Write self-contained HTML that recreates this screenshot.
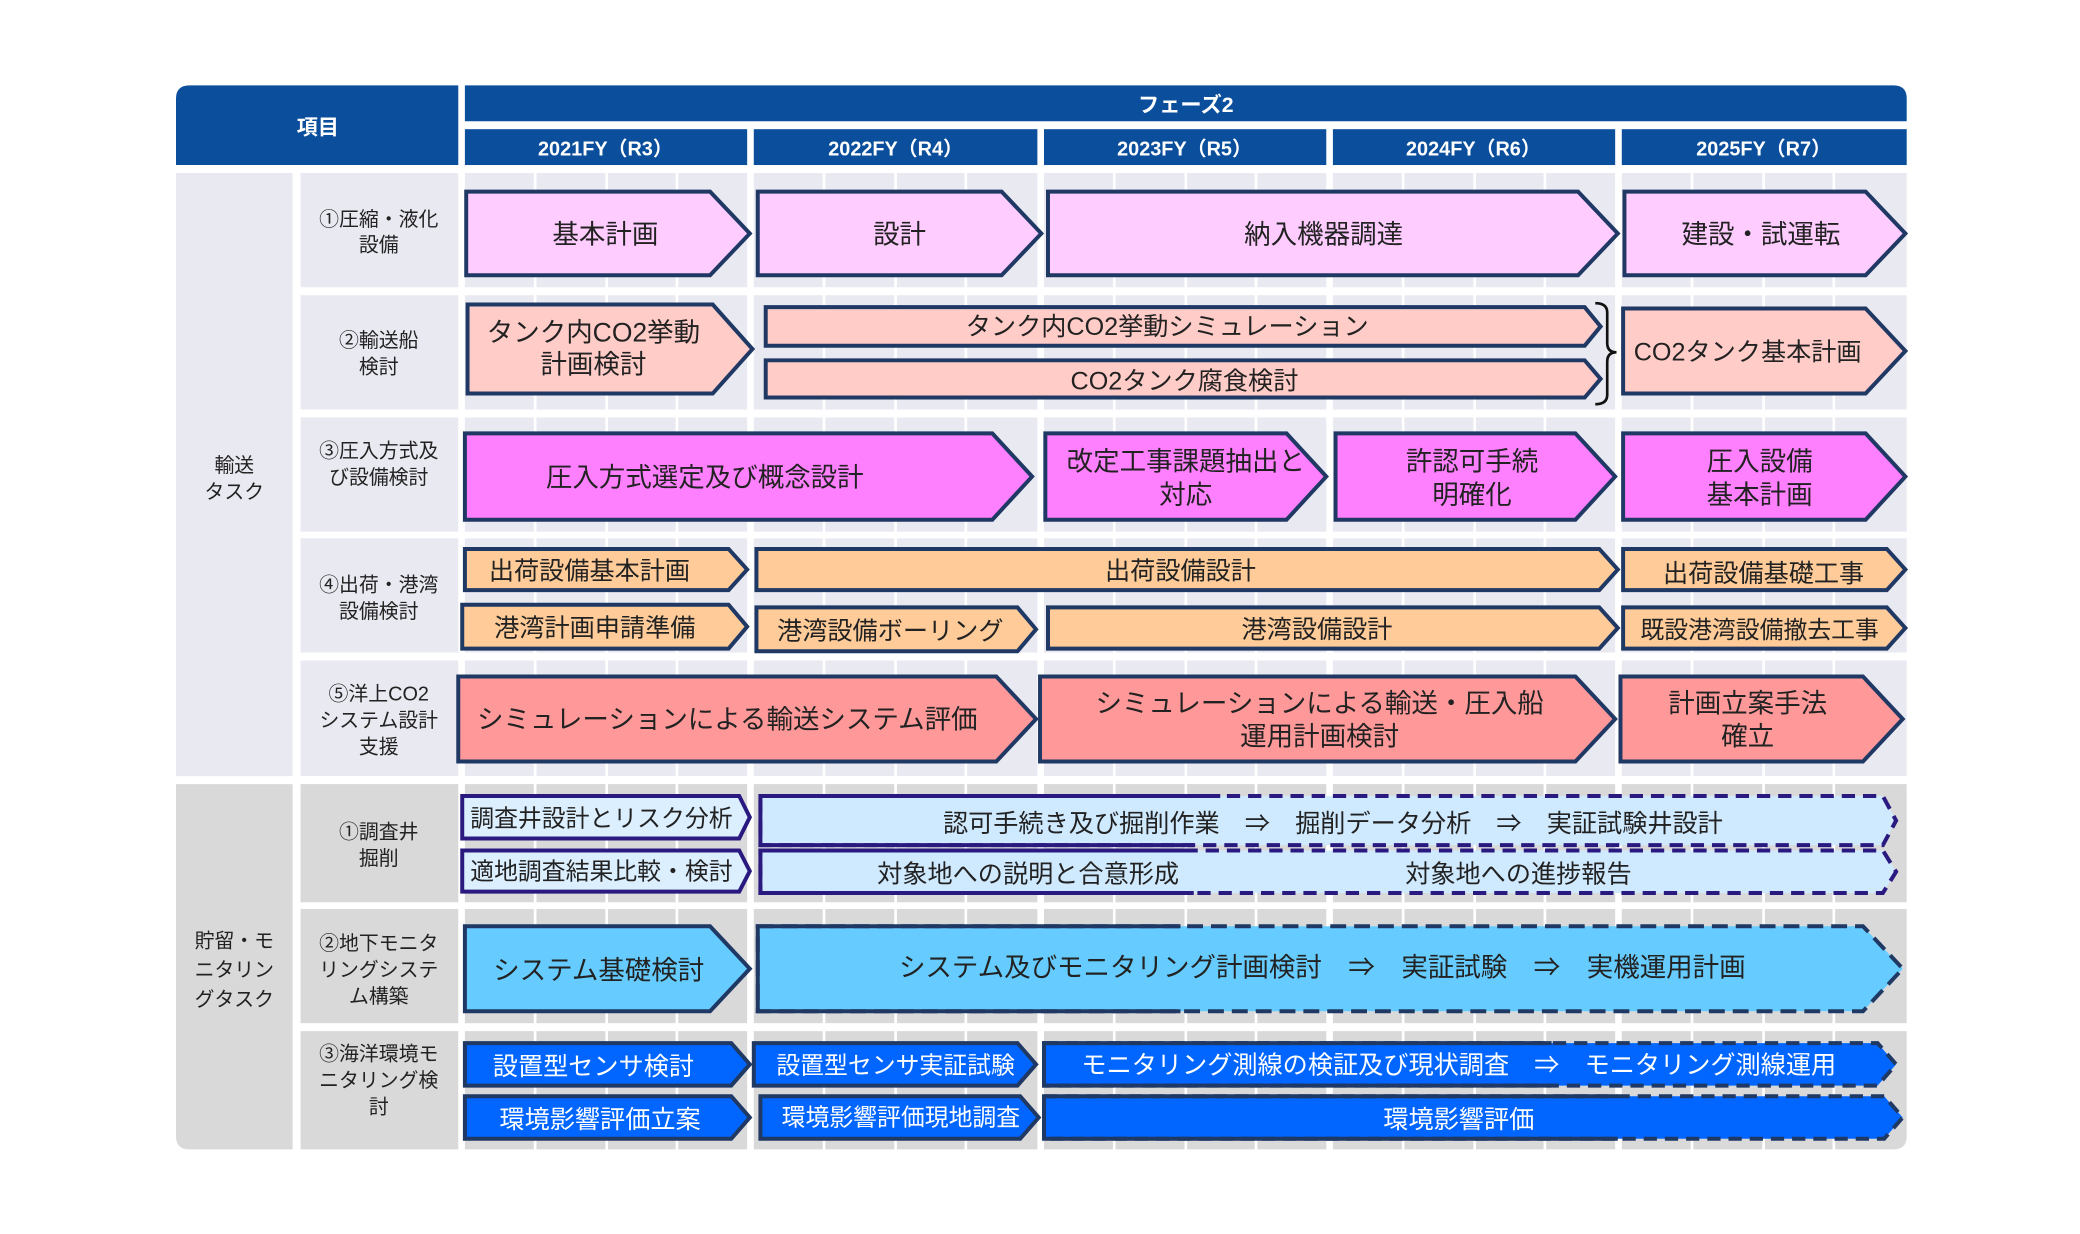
<!DOCTYPE html>
<html><head><meta charset="utf-8"><style>
html,body{margin:0;padding:0;background:#fff;}
svg{display:block;}
text{font-family:"Liberation Sans","Noto Sans CJK JP",sans-serif;}
</style></head><body>
<svg width="2080" height="1234" viewBox="0 0 1560 925.5" xmlns="http://www.w3.org/2000/svg">
<rect width="1560" height="925.5" fill="#fff"/>
<g transform="translate(132,64) scale(0.9939,0.9963) translate(-132,-65)">
<!-- header -->
<path d="M132,75 Q132,65 142,65 L345,65 L345,125 L132,125 Z" fill="#0b4f9c"/>
<path d="M350,65 L1428,65 Q1438,65 1438,75 L1438,92 L350,92 Z" fill="#0b4f9c"/>
<g fill="#0b4f9c">
<rect x="350" y="98" width="213" height="27"/><rect x="568" y="98" width="214" height="27"/><rect x="787" y="98" width="213" height="27"/><rect x="1005" y="98" width="213" height="27"/><rect x="1223" y="98" width="215" height="27"/>
</g>
<g fill="#fff" font-weight="bold" text-anchor="middle">
<text x="239" y="102" font-size="16">項目</text>
<text x="894" y="85" font-size="16">フェーズ2</text>
<text x="456" y="118" font-size="15">2021FY（R3）</text>
<text x="675" y="118" font-size="15">2022FY（R4）</text>
<text x="893" y="118" font-size="15">2023FY（R5）</text>
<text x="1111" y="118" font-size="15">2024FY（R6）</text>
<text x="1330" y="118" font-size="15">2025FY（R7）</text>
</g>
<!-- bands -->
<g fill="#e9e9f1">
<path d="M132,131 L220,131 L220,585 L132,585 Z"/>
<rect x="226" y="131" width="1212" height="86"/>
<rect x="226" y="223" width="1212" height="86"/>
<rect x="226" y="315" width="1212" height="86"/>
<rect x="226" y="406" width="1212" height="86"/>
<rect x="226" y="498" width="1212" height="87"/>
</g>
<g fill="#d9d9d9">
<path d="M132,591 L220,591 L220,866 L142,866 Q132,866 132,856 Z"/>
<rect x="226" y="591" width="1212" height="89"/>
<rect x="226" y="685" width="1212" height="86"/>
<path d="M226,777 L1438,777 L1438,856 Q1438,866 1428,866 L226,866 Z"/>
</g>
<g stroke="#fff">
<g stroke-width="5"><line x1="347.5" y1="128" x2="347.5" y2="870"/><line x1="565.5" y1="128" x2="565.5" y2="870"/><line x1="784.5" y1="128" x2="784.5" y2="870"/><line x1="1002.5" y1="128" x2="1002.5" y2="870"/><line x1="1220.5" y1="128" x2="1220.5" y2="870"/></g>
<g stroke-width="2">
<line x1="403" y1="128" x2="403" y2="870"/><line x1="457" y1="128" x2="457" y2="870"/><line x1="510" y1="128" x2="510" y2="870"/>
<line x1="621" y1="128" x2="621" y2="870"/><line x1="675" y1="128" x2="675" y2="870"/><line x1="728" y1="128" x2="728" y2="870"/>
<line x1="840" y1="128" x2="840" y2="870"/><line x1="894" y1="128" x2="894" y2="870"/><line x1="947" y1="128" x2="947" y2="870"/>
<line x1="1058" y1="128" x2="1058" y2="870"/><line x1="1112" y1="128" x2="1112" y2="870"/><line x1="1165" y1="128" x2="1165" y2="870"/>
<line x1="1276" y1="128" x2="1276" y2="870"/><line x1="1330" y1="128" x2="1330" y2="870"/><line x1="1383" y1="128" x2="1383" y2="870"/>
</g></g>
<!-- left labels -->
<g fill="#222" font-size="15" text-anchor="middle">
<text x="176" y="356">輸送</text><text x="176" y="376">タスク</text>
<text x="176" y="714">貯留・モ</text><text x="176" y="736">ニタリン</text><text x="176" y="758">グタスク</text>
<text x="285" y="171">①圧縮・液化</text><text x="285" y="190">設備</text>
<text x="285" y="262">②輸送船</text><text x="285" y="282">検討</text>
<text x="285" y="345">③圧入方式及</text><text x="285" y="365">び設備検討</text>
<text x="285" y="446">④出荷・港湾</text><text x="285" y="466">設備検討</text>
<text x="285" y="528">⑤洋上CO2</text><text x="285" y="548">システム設計</text><text x="285" y="568">支援</text>
<text x="285" y="632">①調査井</text><text x="285" y="652">掘削</text>
<text x="285" y="716">②地下モニタ</text><text x="285" y="736">リングシステ</text><text x="285" y="756">ム構築</text>
<text x="285" y="799">③海洋環境モ</text><text x="285" y="819">ニタリング検</text><text x="285" y="839">討</text>
</g>
<!-- row1 -->
<g fill="#ffccff" stroke="#1f3864" stroke-width="3" stroke-linejoin="miter">
<polygon points="351,145 535,145 565,176.5 535,208 351,208"/>
<polygon points="571,145 755,145 785,176.5 755,208 571,208"/>
<polygon points="790,145 1190,145 1220,176.5 1190,208 790,208"/>
<polygon points="1225,145 1407,145 1437,176.5 1407,208 1225,208"/>
</g>
<!-- row2 -->
<g fill="#ffccc8" stroke="#1f3864" stroke-width="3">
<polygon points="352,230 537,230 567,263.5 537,297 352,297"/>
<polygon points="577,232 1195,232 1207,246.5 1195,261 577,261"/>
<polygon points="577,272 1195,272 1207,286 1195,300 577,300"/>
<polygon points="1224,233 1407,233 1437,265 1407,297 1224,297"/>
</g>
<path d="M1203,229 Q1212,229 1212,236 L1212,259 Q1212,266 1219,266 Q1212,266 1212,273 L1212,298 Q1212,305 1203,305" fill="none" stroke="#111" stroke-width="2"/>
<!-- row3 -->
<g fill="#ff80ff" stroke="#1f3864" stroke-width="3">
<polygon points="350,327 748,327 778,359.5 748,392 350,392"/>
<polygon points="788,327 970,327 1000,359.5 970,392 788,392"/>
<polygon points="1007,327 1188,327 1218,359.5 1188,392 1007,392"/>
<polygon points="1224,327 1407,327 1437,359.5 1407,392 1224,392"/>
</g>
<!-- row4 -->
<g fill="#ffcc99" stroke="#1f3864" stroke-width="3">
<polygon points="350,414 549,414 563,429.5 549,445 350,445"/>
<polygon points="570,414 1206,414 1220,429.5 1206,445 570,445"/>
<polygon points="1224,414 1423,414 1437,429.5 1423,445 1224,445"/>
<polygon points="348,456 549,456 563,472.5 549,489 348,489"/>
<polygon points="570,458 767,458 781,474.5 767,491 570,491"/>
<polygon points="790,458 1206,458 1220,473.5 1206,489 790,489"/>
<polygon points="1224,458 1423,458 1437,473.5 1423,489 1224,489"/>
</g>
<!-- row5 -->
<g fill="#ff9999" stroke="#1f3864" stroke-width="3">
<polygon points="345,510 751,510 781,542 751,574 345,574"/>
<polygon points="784,510 1188,510 1218,542 1188,574 784,574"/>
<polygon points="1222,510 1405,510 1435,542 1405,574 1222,574"/>
</g>
<!-- row6 -->
<g fill="#dcefff" stroke="#2a1a80" stroke-width="3">
<polygon points="348,600 557,600 565,616 557,632 348,632"/>
<polygon points="348,641 557,641 565,656.5 557,672 348,672"/>
</g>
<g fill="#cfe9ff" stroke="#2a1a80" stroke-width="3" stroke-dasharray="10,6">
<polygon points="573,600 1420,600 1430,618.5 1420,637 573,637"/>
<polygon points="573,641 1420,641 1430,657 1420,673 573,673"/>
</g>
<g fill="none" stroke="#2a1a80" stroke-width="3">
<polyline points="920,600 573,600 573,637 900,637"/>
<polyline points="900,641 573,641 573,673 900,673"/>
</g>
<!-- row7 -->
<g stroke="#1f3864" stroke-width="3">
<polygon fill="#66ccff" points="350,698 535,698 565,730 535,762 350,762"/>
<polygon fill="#66ccff" stroke-dasharray="12,6" points="571,698 1405,698 1435,730 1405,762 571,762"/>
<polyline fill="none" points="890,698 571,698 571,762 890,762"/>
</g>
<!-- row8 -->
<g fill="#0066ff" stroke="#1f3864" stroke-width="3">
<polygon points="350,786 551,786 565,802 551,818 350,818"/>
<polygon points="568,786 767,786 781,802 767,818 568,818"/>
<polygon points="350,826 551,826 565,842 551,858 350,858"/>
<polygon points="573,826 769,826 783,842 769,858 573,858"/>
<polygon stroke-dasharray="10,6" points="787,786 1416,786 1430,802 1416,818 787,818"/>
<polygon stroke-dasharray="10,6" points="787,826 1421,826 1435,842 1421,858 787,858"/>
<polyline fill="none" points="1170,786 787,786 787,818 1170,818"/>
<polyline fill="none" points="1220,826 787,826 787,858 1220,858"/>
</g>
<!-- texts -->
<g fill="#222" text-anchor="middle" font-size="20">
<text x="456" y="184">基本計画</text>
<text x="678" y="184">設計</text>
<text x="998" y="184">納入機器調達</text>
<text x="1328" y="184">建設・試運転</text>
<text x="447" y="258">タンク内CO2挙動</text><text x="447" y="282">計画検討</text>
<text x="880" y="253" font-size="19">タンク内CO2挙動シミュレーション</text>
<text x="893" y="294" font-size="19">CO2タンク腐食検討</text>
<text x="1318" y="272" font-size="19">CO2タンク基本計画</text>
<text x="531" y="367">圧入方式選定及び概念設計</text>
<text x="894" y="355">改定工事課題抽出と</text><text x="894" y="380">対応</text>
<text x="1110" y="355">許認可手続</text><text x="1110" y="380">明確化</text>
<text x="1327" y="355">圧入設備</text><text x="1327" y="380">基本計画</text>
<text x="444" y="437" font-size="19">出荷設備基本計画</text>
<text x="890" y="437" font-size="19">出荷設備設計</text>
<text x="1330" y="439" font-size="19">出荷設備基礎工事</text>
<text x="448" y="480" font-size="19">港湾計画申請準備</text>
<text x="671" y="482" font-size="19">港湾設備ボーリング</text>
<text x="993" y="481" font-size="19">港湾設備設計</text>
<text x="1327" y="481" font-size="18">既設港湾設備撤去工事</text>
<text x="548" y="549">シミュレーションによる輸送システム評価</text>
<text x="995" y="537">シミュレーションによる輸送・圧入船</text><text x="995" y="562">運用計画検討</text>
<text x="1318" y="537">計画立案手法</text><text x="1318" y="562">確立</text>
<text x="453" y="623" font-size="18">調査井設計とリスク分析</text>
<text x="453" y="663" font-size="18">適地調査結果比較・検討</text>
<text x="1005" y="627" font-size="19">認可手続き及び掘削作業　⇒　掘削データ分析　⇒　実証試験井設計</text>
<text x="775" y="665" font-size="19">対象地への説明と合意形成</text>
<text x="1145" y="665" font-size="19">対象地への進捗報告</text>
<text x="451" y="738">システム基礎検討</text>
<text x="997" y="736">システム及びモニタリング計画検討　⇒　実証試験　⇒　実機運用計画</text>
</g>
<g fill="#fff" text-anchor="middle" font-size="19">
<text x="447" y="810">設置型センサ検討</text>
<text x="675" y="809" font-size="18">設置型センサ実証試験</text>
<text x="1100" y="809">モニタリング測線の検証及び現状調査　⇒　モニタリング測線運用</text>
<text x="452" y="850">環境影響評価立案</text>
<text x="679" y="848" font-size="18">環境影響評価現地調査</text>
<text x="1100" y="850">環境影響評価</text>
</g>
</g>
</svg>
</body></html>
